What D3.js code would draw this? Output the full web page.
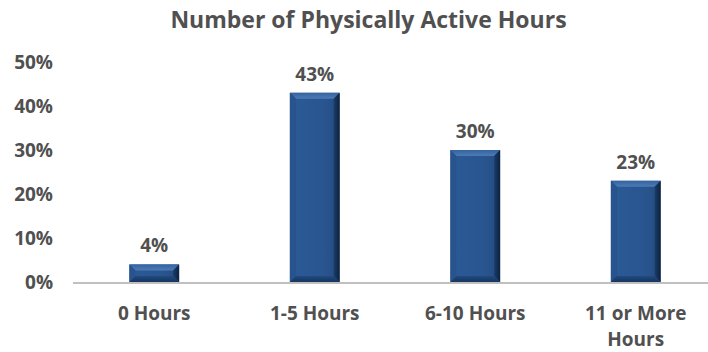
<!DOCTYPE html>
<html>
<head>
<meta charset="utf-8">
<script src="https://cdn.jsdelivr.net/npm/d3@7"></script>
<style>
  html, body { margin: 0; padding: 0; background: #fff; }
  svg { display: block; font-family: "Open Sans", Lato, sans-serif; }
</style>
</head>
<body>
<svg id="chart" width="708" height="352"></svg>
<script>
// Share of respondents by weekly physically active hours
const categories = [["0 Hours"], ["1-5 Hours"], ["6-10 Hours"], ["11 or More", "Hours"]];
const values = [4, 43, 30, 23];
const yTicks = [0, 10, 20, 30, 40, 50];
const titleText = "Number of Physically Active Hours";

const svg = d3.select("#chart");
const W = 708;
const baseY = 282, topY = 62;

const x = d3.scaleBand()
  .domain(d3.range(values.length))
  .range([74, 716])
  .paddingInner(0.69)
  .paddingOuter(0.345);

const y = d3.scaleLinear().domain([0, 50]).range([baseY, topY]);

const textColor = "#505050";
const font = "'Open Sans', Lato, sans-serif";
const labelSize = 19;

// gradients for bevel faces
const defs = svg.append("defs");
function lin(id, x1, y1, x2, y2, stops) {
  const g = defs.append("linearGradient").attr("id", id)
    .attr("x1", x1).attr("y1", y1).attr("x2", x2).attr("y2", y2);
  stops.forEach(([o, c]) => g.append("stop").attr("offset", o).attr("stop-color", c));
}
lin("bodyGrad", 0, 0, 1, 0, [[0, "#2b5a96"], [0.7, "#29558f"], [1, "#224a7f"]]);
lin("topGrad", 0, 0, 0, 1, [[0, "#3563a0"], [1, "#4d7bb5"]]);
lin("rightGrad", 0, 0, 1, 0, [[0, "#1c3d69"], [1, "#0c2240"]]);
lin("bottomGrad", 0, 0, 0, 1, [[0, "#23497e"], [1, "#163560"]]);

// title
svg.append("text")
  .attr("x", 368.5).attr("y", 28)
  .attr("text-anchor", "middle")
  .attr("font-size", 23).attr("font-weight", "bold")
  .attr("fill", textColor)
  .text(titleText);

// y axis labels (no axis line)
const yAxis = d3.axisLeft(y).tickValues(yTicks).tickFormat(d => d + "%").tickSize(0).tickPadding(0);
const yg = svg.append("g").attr("transform", "translate(53,0)").call(yAxis);
yg.select(".domain").remove();
yg.selectAll("text")
  .attr("font-size", labelSize).attr("font-weight", "bold")
  .attr("fill", textColor).attr("font-family", font);

// bars with bevelled edges
const bw = x.bandwidth();
const bev = 6;
const barG = svg.append("g");
values.forEach((v, i) => {
  const x0 = x(i), x1 = x(i) + bw, y0 = y(v), y1 = y(0);
  const g = barG.append("g");
  const b = Math.min(bev, (y1 - y0) / 2);
  g.append("rect").attr("x", x0).attr("y", y0).attr("width", bw).attr("height", y1 - y0).attr("fill", "url(#bodyGrad)");
  // top bevel (highlight)
  g.append("polygon").attr("points", [[x0, y0], [x1, y0], [x1 - bev, y0 + b], [x0 + bev, y0 + b]].join(" ")).attr("fill", "url(#topGrad)");
  // left bevel
  g.append("polygon").attr("points", [[x0, y0], [x0 + bev, y0 + b], [x0 + bev, y1 - b], [x0, y1]].join(" ")).attr("fill", "#28538c");
  // right bevel (shadow)
  g.append("polygon").attr("points", [[x1, y0], [x1 - bev, y0 + b], [x1 - bev, y1 - b], [x1, y1]].join(" ")).attr("fill", "url(#rightGrad)");
  // bottom bevel
  g.append("polygon").attr("points", [[x0, y1], [x0 + bev, y1 - b], [x1 - bev, y1 - b], [x1, y1]].join(" ")).attr("fill", "url(#bottomGrad)");
  // value label
  svg.append("text")
    .attr("x", x0 + bw / 2).attr("y", y0 - 12)
    .attr("text-anchor", "middle")
    .attr("font-size", labelSize).attr("font-weight", "bold")
    .attr("fill", textColor)
    .text(v + "%");
});

// x axis baseline
svg.append("line")
  .attr("x1", 73).attr("x2", W).attr("y1", baseY + 1).attr("y2", baseY + 1)
  .attr("stroke", "#c0c0c0").attr("stroke-width", 2);

// category labels
categories.forEach((lines, i) => {
  const t = svg.append("text")
    .attr("x", x(i) + bw / 2).attr("y", 320)
    .attr("text-anchor", "middle")
    .attr("font-size", labelSize).attr("font-weight", "bold")
    .attr("fill", textColor);
  lines.forEach((ln, j) => {
    t.append("tspan").attr("x", x(i) + bw / 2).attr("dy", j === 0 ? 0 : 26).text(ln);
  });
});
</script>
</body>
</html>
